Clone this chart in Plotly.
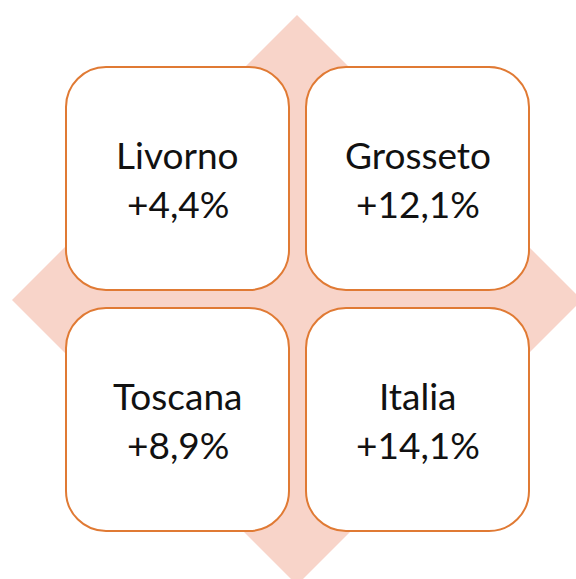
import plotly.graph_objects as go

# Data
regions = ["Livorno", "Grosseto", "Toscana", "Italia"]
changes = ["+4,4%", "+12,1%", "+8,9%", "+14,1%"]

# Layout constants (pixels)
W, H = 576, 579
cells = [(66, 67), (306, 67), (66, 308), (306, 308)]  # top-left corners of boxes
BOX = 223
R = 40
DIAMOND_C = (297, 300)
DIAMOND_R = 285

PINK = "#F8D4C9"
ORANGE = "#E07A34"

def rounded_rect(x0, y0, x1, y1, r):
    k = 0.5523 * r
    return (f"M {x0+r},{y0} L {x1-r},{y0} "
            f"C {x1-r+k},{y0} {x1},{y0+r-k} {x1},{y0+r} "
            f"L {x1},{y1-r} "
            f"C {x1},{y1-r+k} {x1-r+k},{y1} {x1-r},{y1} "
            f"L {x0+r},{y1} "
            f"C {x0+r-k},{y1} {x0},{y1-r+k} {x0},{y1-r} "
            f"L {x0},{y0+r} "
            f"C {x0},{y0+r-k} {x0+r-k},{y0} {x0+r},{y0} Z")

fig = go.Figure()
cx, cy = DIAMOND_C
shapes = [dict(type="path",
               path=f"M {cx},{cy-DIAMOND_R} L {cx+DIAMOND_R},{cy} L {cx},{cy+DIAMOND_R} L {cx-DIAMOND_R},{cy} Z",
               fillcolor=PINK, line=dict(width=0), layer="below")]
annotations = []
for (x0, y0), reg, ch in zip(cells, regions, changes):
    shapes.append(dict(type="path", path=rounded_rect(x0, y0, x0 + BOX, y0 + BOX, R),
                       fillcolor="white", line=dict(color=ORANGE, width=2), layer="below"))
    xc = x0 + BOX / 2
    annotations.append(dict(x=xc, y=y0 + 87, text=reg, showarrow=False,
                            xanchor="center", yanchor="middle",
                            font=dict(family="Lato", size=37, color="#111111")))
    annotations.append(dict(x=xc, y=y0 + 136, text=ch, showarrow=False,
                            xanchor="center", yanchor="middle",
                            font=dict(family="Lato", size=37, color="#111111")))

fig.update_layout(
    width=W, height=H,
    margin=dict(l=0, r=0, t=0, b=0),
    paper_bgcolor="white", plot_bgcolor="white",
    xaxis=dict(range=[0, W], visible=False, fixedrange=True),
    yaxis=dict(range=[H, 0], visible=False, fixedrange=True),
    shapes=shapes, annotations=annotations, showlegend=False,
)
fig.write_html("out.html", config={"displayModeBar": False},
               post_script="document.body.style.margin='0';document.body.style.overflow='hidden';")
